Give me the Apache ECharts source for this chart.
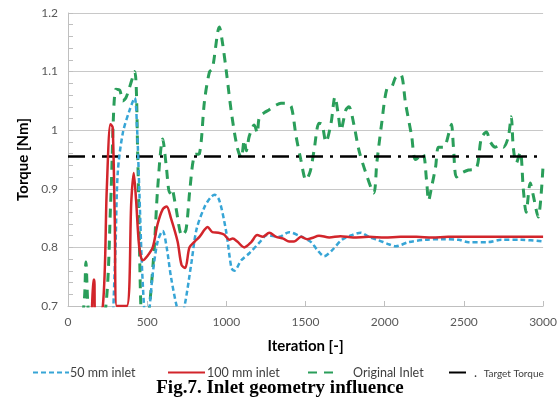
<!DOCTYPE html>
<html>
<head>
<meta charset="utf-8">
<script src="https://cdn.jsdelivr.net/npm/echarts@6/dist/echarts.min.js"></script>
<style>
  html, body { margin: 0; padding: 0; background: #fff; }
  #chart { width: 560px; height: 398px; }
</style>
</head>
<body>
<div id="chart"></div>
<script>
// (iteration, torque in Nm)
const iter50 = [280, 300, 314, 346, 390, 421, 435, 450, 465, 480, 495, 516, 535, 566, 598, 623, 650, 686, 710, 736, 780, 811, 862, 900, 925, 956, 1000, 1032, 1050, 1094, 1145, 1208, 1258, 1333, 1396, 1459, 1535, 1573, 1617, 1667, 1730, 1793, 1849, 1900, 1962, 2030, 2069, 2151, 2258, 2360, 2466, 2529, 2654, 2736, 2862, 3000];
const torque50 = [0.65, 0.80, 0.927, 0.995, 1.035, 1.055, 1.01, 0.90, 0.78, 0.70, 0.65, 0.70, 0.755, 0.81, 0.828, 0.80, 0.75, 0.70, 0.68, 0.70, 0.775, 0.83, 0.869, 0.885, 0.89, 0.88, 0.825, 0.765, 0.76, 0.778, 0.79, 0.808, 0.821, 0.818, 0.826, 0.82, 0.809, 0.796, 0.785, 0.795, 0.813, 0.821, 0.825, 0.818, 0.812, 0.805, 0.802, 0.809, 0.813, 0.814, 0.813, 0.809, 0.809, 0.813, 0.813, 0.81];

const iter100 = [150, 160, 166, 172, 220, 245, 268, 282, 295, 308, 371, 400, 415, 430, 450, 472, 500, 535, 566, 598, 623, 650, 692, 717, 740, 767, 800, 830, 862, 881, 912, 950, 985, 1019, 1040, 1069, 1113, 1157, 1195, 1230, 1271, 1315, 1360, 1396, 1428, 1472, 1510, 1541, 1585, 1650, 1720, 1800, 1900, 2000, 2100, 2200, 2300, 2400, 2500, 2600, 2700, 2800, 2900, 3000];
const torque100 = [0.68, 0.745, 0.745, 0.68, 0.70, 0.90, 1.01, 1.005, 0.85, 0.70, 0.70, 0.88, 0.927, 0.88, 0.80, 0.778, 0.785, 0.80, 0.84, 0.865, 0.87, 0.85, 0.81, 0.77, 0.765, 0.80, 0.81, 0.818, 0.83, 0.835, 0.826, 0.825, 0.822, 0.813, 0.815, 0.81, 0.80, 0.809, 0.821, 0.818, 0.825, 0.818, 0.815, 0.81, 0.81, 0.818, 0.814, 0.816, 0.82, 0.817, 0.819, 0.817, 0.818, 0.817, 0.818, 0.818, 0.817, 0.818, 0.818, 0.818, 0.818, 0.818, 0.818, 0.818];

const iterOrig = [60, 100, 113, 126, 160, 239, 270, 302, 327, 346, 365, 385, 421, 440, 460, 480, 515, 545, 566, 598, 620, 642, 655, 680, 720, 745, 770, 799, 830, 862, 893, 912, 956, 975, 1000, 1032, 1069, 1094, 1113, 1126, 1145, 1176, 1195, 1208, 1240, 1271, 1315, 1345, 1378, 1410, 1440, 1470, 1503, 1530, 1554, 1585, 1604, 1629, 1661, 1686, 1705, 1723, 1755, 1774, 1805, 1837, 1881, 1931, 1950, 1981, 2013, 2044, 2069, 2101, 2132, 2170, 2195, 2240, 2264, 2277, 2296, 2321, 2340, 2371, 2415, 2422, 2434, 2453, 2485, 2529, 2579, 2610, 2642, 2667, 2698, 2730, 2749, 2780, 2799, 2812, 2831, 2856, 2875, 2893, 2919, 2937, 2969, 3000];
const torqueOrig = [0.66, 0.70, 0.775, 0.70, 0.60, 0.70, 0.88, 1.07, 1.068, 1.05, 1.055, 1.07, 1.10, 0.96, 0.70, 0.62, 0.70, 0.80, 0.90, 0.985, 0.94, 0.893, 0.90, 0.87, 0.82, 0.83, 0.90, 0.958, 0.96, 1.05, 1.099, 1.105, 1.176, 1.15, 1.10, 1.03, 0.97, 0.953, 0.983, 0.965, 0.99, 1.009, 0.995, 1.022, 1.03, 1.035, 1.043, 1.046, 1.046, 1.04, 0.99, 0.95, 0.915, 0.93, 0.966, 1.012, 1.01, 0.98, 1.012, 1.057, 1.03, 1.0, 1.035, 1.04, 1.01, 0.966, 0.927, 0.893, 0.944, 1.012, 1.07, 1.074, 1.09, 1.095, 1.045, 0.99, 0.95, 0.96, 0.915, 0.88, 0.903, 0.937, 0.971, 0.971, 1.005, 1.01, 0.971, 0.92, 0.927, 0.932, 0.935, 0.986, 0.997, 0.98, 0.971, 0.975, 0.971, 0.988, 1.023, 0.97, 0.944, 0.963, 0.90, 0.86, 0.91, 0.89, 0.852, 0.94];

const iterTarget = [0, 3000];
const torqueTarget = [0.955, 0.955];

const xTicks = [0, 500, 1000, 1500, 2000, 2500, 3000];
const yTicks = [0.7, 0.8, 0.9, 1, 1.1, 1.2];

const pairs = (xs, ys) => xs.map((x, i) => [x, ys[i]]);

const chart = echarts.init(document.getElementById('chart'));
const labelFont = 'Lato';
const legendText = { fontFamily: labelFont, fontSize: 12.5, color: '#404040' };

// one legend per entry so each icon can have its own length, like the original
const legendAt = (name, left, w, gap, extra) => Object.assign({
  left: left,
  top: 361,
  itemWidth: w,
  itemHeight: 14,
  itemGap: 0,
  textStyle: Object.assign({}, legendText, { padding: [0, 0, 0, gap] }),
  itemStyle: { opacity: 0 },
  data: [name]
}, extra || {});

chart.setOption({
  animation: false,
  title: {
    text: 'Fig.7. Inlet geometry influence',
    left: 'center',
    top: 374,
    textStyle: { fontFamily: 'Liberation Serif', fontWeight: 'bold', fontSize: 19, color: '#000' }
  },
  grid: { left: 68, right: 16, top: 13, bottom: 92 },
  legend: [
    legendAt('50 mm inlet', 27, 36, -4),
    legendAt('100 mm inlet', 162, 37, -3),
    legendAt('Original Inlet', 302, 30, 10),
    legendAt('Target Torque', 443, 20, 2, {
      formatter: '.  {s|Target Torque}',
      textStyle: Object.assign({}, legendText, {
        fontSize: 13,
        rich: { s: { fontSize: 10, fontFamily: labelFont, color: '#404040', verticalAlign: 'bottom' } }
      })
    })
  ],
  xAxis: {
    type: 'value',
    min: 0,
    max: 3000,
    interval: 500,
    name: 'Iteration [-]',
    nameLocation: 'middle',
    nameGap: 33,
    nameTextStyle: { fontFamily: labelFont, fontWeight: 'bold', fontSize: 15, color: '#000' },
    axisLine: { lineStyle: { color: '#bfbfbf', width: 1 } },
    axisTick: { show: true, inside: true, length: 5, lineStyle: { color: '#bfbfbf' } },
    splitLine: { show: false },
    axisLabel: {
      fontFamily: labelFont, fontSize: 12, color: '#595959', margin: 10,
      formatter: v => xTicks.includes(v) ? String(v) : ''
    }
  },
  yAxis: {
    type: 'value',
    min: 0.7,
    max: 1.2,
    interval: 0.1,
    name: 'Torque [Nm]',
    nameLocation: 'middle',
    nameGap: 37,
    nameTextStyle: { fontFamily: labelFont, fontWeight: 'bold', fontSize: 15, color: '#000' },
    axisLine: { show: true, lineStyle: { color: '#bfbfbf', width: 1 } },
    axisTick: { show: true, inside: true, length: 5, lineStyle: { color: '#bfbfbf' } },
    minorTick: { show: true, splitNumber: 5, length: 5, lineStyle: { color: '#bfbfbf' } },
    splitLine: { show: true, lineStyle: { color: '#c8c8c8', width: 1 } },
    axisLabel: {
      fontFamily: labelFont, fontSize: 12, color: '#595959', margin: 10,
      formatter: v => {
        const t = yTicks.find(y => Math.abs(y - v) < 1e-6);
        return t === undefined ? '' : String(t);
      }
    }
  },
  series: [
    {
      name: 'Original Inlet',
      type: 'line',
      data: pairs(iterOrig, torqueOrig),
      smooth: 0.3,
      showSymbol: false,
      symbol: 'none',
      clip: true,
      z: 2,
      itemStyle: { color: '#2a9e5a' },
      lineStyle: { color: '#2a9e5a', width: 3, type: [9, 7] }
    },
    {
      name: 'Target Torque',
      type: 'line',
      data: pairs(iterTarget, torqueTarget),
      showSymbol: false,
      symbol: 'none',
      z: 3,
      itemStyle: { color: '#000' },
      lineStyle: { color: '#000', width: 2.5, type: [17, 7, 3, 7] }
    },
    {
      name: '50 mm inlet',
      type: 'line',
      data: pairs(iter50, torque50),
      smooth: 0.3,
      showSymbol: false,
      symbol: 'none',
      clip: true,
      z: 4,
      itemStyle: { color: '#37a5d6' },
      lineStyle: { color: '#37a5d6', width: 2.5, type: [5, 3] }
    },
    {
      name: '100 mm inlet',
      type: 'line',
      data: pairs(iter100, torque100),
      smooth: 0.3,
      showSymbol: false,
      symbol: 'none',
      clip: true,
      z: 5,
      itemStyle: { color: '#d2252b' },
      lineStyle: { color: '#d2252b', width: 2.5 }
    }
  ]
});
</script>
</body>
</html>
